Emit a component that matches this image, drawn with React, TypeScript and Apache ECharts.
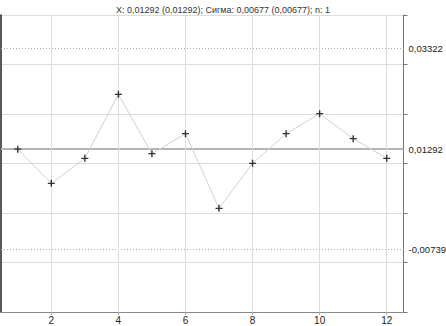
import React, { useEffect, useRef } from "react";
import * as echarts from "echarts";

const xValues = [1, 2, 3, 4, 5, 6, 7, 8, 9, 10, 11, 12];
const yValues = [0.0129, 0.00599, 0.01104, 0.02397, 0.01199, 0.01603, 0.00094, 0.01003, 0.01603, 0.02007, 0.01502, 0.01104];
const xTicks = [2, 4, 6, 8, 10, 12];
const meanValue = 0.01292;
const upperLimit = 0.03322;
const lowerLimit = -0.00739;
const limitLabels = ["0,03322", "0,01292", "-0,00739"];
const titleText = "X: 0,01292 (0,01292); Сигма: 0,00677 (0,00677); n: 1";

const xMin = 0.5;
const xMax = 12.5;

const plusPath = "path://M4,0h2v4h4v2h-4v4h-2v-4h-4v-2h4z";

export default function App() {
  const ref = useRef<HTMLDivElement>(null);
  useEffect(() => {
    if (!ref.current) return;
    const chart = echarts.init(ref.current, null, { renderer: "svg" });
    const font = "Liberation Sans, Arial, sans-serif";
    const limitSeries = (value: number, label: string, style: any) => ({
      type: "line",
      data: [
        [xMin, value],
        [xMax, value],
      ],
      symbol: "none",
      silent: true,
      lineStyle: style,
      endLabel: {
        show: true,
        formatter: label,
        distance: 5,
        fontSize: 9.5,
        color: "#222",
        fontFamily: font,
      },
      z: 2,
    });
    chart.setOption({
      animation: false,
      backgroundColor: "#ffffff",
      title: {
        text: titleText,
        left: "center",
        top: 0,
        textStyle: { fontSize: 9, fontWeight: "normal", color: "#333", fontFamily: font },
      },
      grid: { left: 1, right: 42.5, top: 15, bottom: 14, containLabel: false },
      xAxis: {
        type: "value",
        min: xMin,
        max: xMax,
        axisLine: { show: true, onZero: false, lineStyle: { color: "#888", width: 1 } },
        axisTick: { show: true, length: 3, customValues: xTicks, lineStyle: { color: "#aaa" } },
        axisLabel: {
          fontSize: 10,
          color: "#222",
          fontFamily: font,
          margin: 3,
          customValues: xTicks,
        },
        splitLine: { show: false },
      },
      yAxis: [
        {
          type: "value",
          position: "right",
          min: -0.02,
          max: 0.04,
          interval: 0.01,
          axisLine: { show: true, lineStyle: { color: "#777", width: 1 } },
          axisTick: { show: true, inside: false, length: 4, lineStyle: { color: "#777" } },
          axisLabel: { show: false },
          splitLine: { show: true, lineStyle: { color: "#dcdcdc", width: 1 } },
        },
        {
          type: "value",
          position: "left",
          min: -0.02,
          max: 0.04,
          interval: 0.01,
          axisLine: { show: true, lineStyle: { color: "#222", width: 1.5 } },
          axisTick: { show: false },
          axisLabel: { show: false },
          splitLine: { show: false },
        },
      ],
      series: [
        {
          type: "line",
          data: xValues.map((x, i) => [x, yValues[i]]),
          symbol: "none",
          lineStyle: { width: 0, opacity: 0 },
          silent: true,
          markLine: {
            silent: true,
            symbol: "none",
            label: { show: false },
            lineStyle: { color: "#dcdcdc", width: 1, type: "solid" },
            data: xTicks.map((v) => ({ xAxis: v })),
          },
        },
        limitSeries(upperLimit, limitLabels[0], { color: "#aaa", width: 1, type: [1, 2] }),
        limitSeries(meanValue, limitLabels[1], { color: "#b4b4b4", width: 2, type: "solid" }),
        limitSeries(lowerLimit, limitLabels[2], { color: "#aaa", width: 1, type: [1, 2] }),
        {
          type: "line",
          data: xValues.map((x, i) => [x, yValues[i]]),
          symbol: plusPath,
          symbolSize: 7,
          itemStyle: { color: "#333" },
          lineStyle: { color: "#d2d2d2", width: 1 },
          z: 5,
        },
      ],
    });
    return () => chart.dispose();
  }, []);
  return <div ref={ref} style={{ position: "fixed", left: 0, top: 0, width: 446, height: 326 }} />;
}
